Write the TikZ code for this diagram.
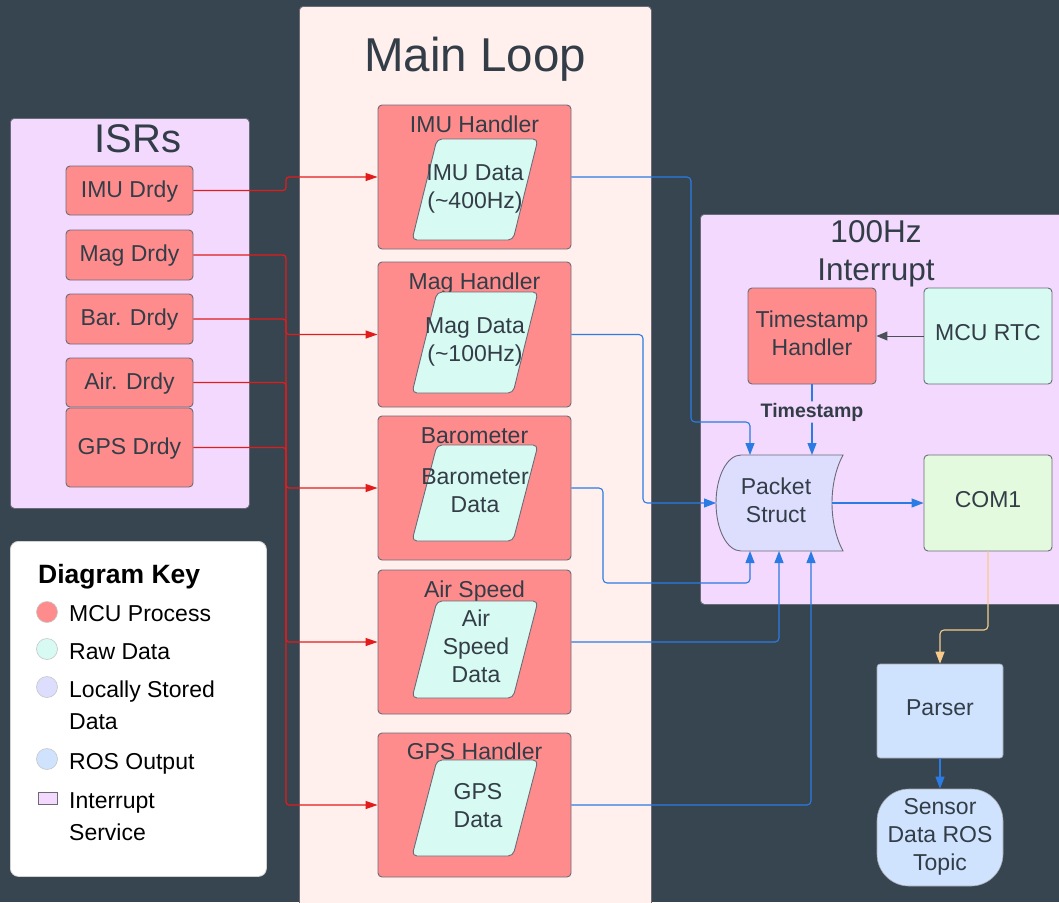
\documentclass[tikz,border=0pt]{standalone}
\usepackage{fontspec}
\setmainfont{Liberation Sans}
\usetikzlibrary{arrows.meta,calc}
\definecolor{bg}{HTML}{36454F}
\definecolor{mainfill}{HTML}{FFF0EE}
\definecolor{isrfill}{HTML}{F3D9FE}
\definecolor{procfill}{HTML}{FF8C8C}
\definecolor{rawfill}{HTML}{D7FAF2}
\definecolor{storefill}{HTML}{DDDDFD}
\definecolor{comfill}{HTML}{E3FADF}
\definecolor{rosfill}{HTML}{CFE3FE}
\definecolor{txt}{HTML}{333D47}
\definecolor{edge}{HTML}{6B6B78}
\definecolor{redline}{HTML}{E31B1B}
\definecolor{blueline}{HTML}{2B7BE5}
\definecolor{orangeline}{HTML}{F9CB8B}
\definecolor{grayline}{HTML}{4B5058}
\newcommand{\fs}[2]{\fontsize{#1}{#2}\selectfont}
\newcommand{\rawpg}[2]{\draw[rawshape] (437,#1) -- (538,#1) -- (513,#2) -- (412,#2) -- cycle;}
\begin{document}
\begin{tikzpicture}[x=1pt,y=-1pt,
  panel/.style={draw=edge, line width=0.8pt, rounded corners=4pt, inner sep=0pt, anchor=north west},
  procbox/.style={draw=edge, fill=procfill, rounded corners=4pt, line width=0.9pt, inner sep=0pt, text=txt, font=\fs{23}{28}, align=center},
  isrbox/.style={procbox, minimum width=127, text height=17pt, text depth=4pt},
  handler/.style={procbox, minimum width=193, minimum height=144},
  htitle/.style={anchor=base, yshift=-28pt, font=\fs{23}{28}, text=txt, inner sep=0pt, draw=none, fill=none},
  rawshape/.style={draw=edge, fill=rawfill, line width=0.9pt, rounded corners=5pt},
  tnode/.style={text=txt, inner sep=0pt, align=center, anchor=base, font=\fs{23}{28}},
  sbox/.style={draw=edge, rounded corners=4pt, line width=0.9pt, inner sep=0pt, text=txt, font=\fs{23}{28}, minimum width=128, minimum height=96, text height=17pt, text depth=9pt},
  redarrow/.style={draw=redline, line width=1.2pt, rounded corners=3pt, -{Triangle[length=12pt,width=8pt]}},
  bluearrow/.style={draw=blueline, line width=1.1pt, rounded corners=4pt, -{Triangle[length=12pt,width=9pt]}},
  keydot/.style={circle, minimum size=21, inner sep=0pt, draw=gray!45, line width=0.6pt},
  keytext/.style={text=black, inner sep=0pt, anchor=base west, align=left, font=\fs{23}{31.5}}
]
\useasboundingbox (0,0) rectangle (1059,902);
\clip (0,0) rectangle (1059,902);
\fill[bg] (0,0) rectangle (1059,902);

% ---------- panels ----------
\node[panel, fill=mainfill, minimum width=352, minimum height=920] (mainloop) at (299,6) {};
\node[tnode, font=\fs{47.5}{56}] (maintitle) at (475,71) {Main Loop};
\node[panel, fill=isrfill, minimum width=239, minimum height=390] (isrpanel) at (10,118) {};
\node[tnode, font=\fs{40}{48}] (isrtitle) at (138,152) {ISRs};
\node[panel, fill=isrfill, minimum width=380, minimum height=390] (intpanel) at (700,214) {};
\node[tnode, font=\fs{31.5}{38}] (inttitle) at (876,280) {100Hz\\Interrupt};

% ---------- ISR boxes ----------
\node[isrbox, minimum height=49] (imud) at (129.5,190.5) {IMU Drdy};
\node[isrbox, minimum height=50] (magd) at (129.5,255) {Mag Drdy};
\node[isrbox, minimum height=50] (bard) at (129.5,319) {Bar. Drdy};
\node[isrbox, minimum height=49] (aird) at (129.5,382.5) {Air. Drdy};
\node[isrbox, minimum height=79] (gpsd) at (129.5,447.5) {GPS Drdy};

% ---------- handlers ----------
\node[handler, label={[htitle]north:IMU Handler}] (imuh) at (474.5,177) {};
\rawpg{139}{240}
\node[tnode] (imudat) at (475,208) {IMU Data\\(\textasciitilde400Hz)};

\node[handler, minimum height=145, label={[htitle]north:Mag Handler}] (magh) at (474.5,334.5) {};
\rawpg{292}{393}
\node[tnode] (magdat) at (475,361) {Mag Data\\(\textasciitilde100Hz)};

\node[handler, label={[htitle]north:Barometer}] (baroh) at (474.5,488) {};
\rawpg{445}{541}
\node[tnode] (barodat) at (475,512) {Barometer\\Data};

\node[handler, label={[htitle]north:Air Speed}] (airh) at (474.5,642) {};
\rawpg{601}{698}
\node[tnode] (airdat) at (476,682) {Air\\Speed\\Data};

\node[handler, label={[htitle, yshift=1pt]north:GPS Handler}] (gpsh) at (474.5,805) {};
\rawpg{760}{856}
\node[tnode] (gpsdat) at (478,827) {GPS\\Data};

% ---------- interrupt contents ----------
\node[sbox, fill=procfill] (tsh) at (812,336) {};
\node[tnode] (tsht) at (812,355) {Timestamp\\Handler};
\node[sbox, fill=rawfill] (rtc) at (988,336) {MCU RTC};
\node[sbox, fill=comfill] (com1) at (988,503) {COM1};

\draw[draw=edge, fill=storefill, line width=0.9pt]
  (741,455) -- (843,455)
  .. controls (836,468) and (832,485) .. (832,503)
  .. controls (832,521) and (836,538) .. (843,551)
  -- (741,551)
  .. controls (727,551) and (716,529.5) .. (716,503)
  .. controls (716,476.5) and (727,455) .. (741,455) -- cycle;
\node[tnode] (packet) at (776,522) {Packet\\Struct};
\coordinate (pkT1) at (750,455);
\coordinate (pkT2) at (812,455);
\coordinate (pkL) at (716,503);
\coordinate (pkR) at (832,503);
\coordinate (pkB1) at (750,551);
\coordinate (pkB2) at (779,551);
\coordinate (pkB3) at (811,551);

% ---------- ROS ----------
\node[draw=edge!60, fill=rosfill, line width=0.6pt, inner sep=0pt, minimum width=126, minimum height=94, rounded corners=3pt,
      text=txt, font=\fs{23}{28}, text height=17pt, text depth=9pt] (parser) at (940,711) {Parser};
\node[draw=edge!60, fill=rosfill, line width=0.6pt, inner sep=0pt, minimum width=126, minimum height=97,
      rounded corners=32pt] (ros) at (940,837.5) {};
\node[tnode] (rost) at (940,870) {Sensor\\Data ROS\\Topic};

% ---------- red connectors ----------
\coordinate (bus) at (286,0);
\draw[redarrow] (imud.east) -| (bus |- imuh.west) -- (imuh.west);
\draw[redarrow] (gpsd.east) -| (bus |- gpsh.west) -- (gpsh.west);
\draw[redarrow] (aird.east) -| (bus |- airh.west) -- (airh.west);
\draw[redarrow] (bard.east) -| (bus |- baroh.west) -- (baroh.west);
\draw[redarrow] (magd.east) -| (bus |- magh.west) -- (magh.west);

% ---------- blue connectors ----------
\draw[bluearrow] (imuh.east) -| (691,422) -| (pkT1);
\draw[bluearrow] (magh.east) -| (643,503) -- (pkL);
\draw[bluearrow] (baroh.east) -| (603,583) -| (pkB1);
\draw[bluearrow] (airh.east) -| (pkB2);
\draw[bluearrow] (gpsh.east) -| (pkB3);
\draw[bluearrow] (tsh.south) -- node[pos=0.39, fill=isrfill, inner sep=1.5pt, text=txt, font=\bfseries\fs{19.5}{23}] (tslab) {Timestamp} (pkT2);
\draw[bluearrow] (pkR) -- (com1.west);
\draw[draw=grayline, line width=1pt, -{Triangle[length=11pt,width=9pt]}] (rtc.west) -- (tsh.east);
\draw[draw=orangeline, line width=1.1pt, rounded corners=4pt, -{Triangle[length=12pt,width=9pt]}] (com1.south) |- (940,630) -- (parser.north);
\draw[bluearrow] (parser.south) -- (ros.north);

% ---------- key ----------
\node[draw=gray!35, fill=white, rounded corners=8pt, line width=0.8pt, minimum width=256, minimum height=335, inner sep=0pt, anchor=north west] (key) at (10,541) {};
\node[text=black, inner sep=0pt, anchor=base west, font=\bfseries\fs{26.5}{31}] (keytitle) at (38,583) {Diagram Key};
\node[keydot, fill=procfill] (k1) at (47,612) {};
\node[keytext] (k1t) at (69,621) {MCU Process};
\node[keydot, fill=rawfill] (k2) at (47,649) {};
\node[keytext] (k2t) at (69,659) {Raw Data};
\node[keydot, fill=storefill] (k3) at (47,687) {};
\node[keytext] (k3t) at (69,729) {Locally Stored\\Data};
\node[keydot, fill=rosfill] (k4) at (47,759) {};
\node[keytext] (k4t) at (69,769) {ROS Output};
\node[draw=edge, fill=isrfill, line width=0.7pt, minimum width=19, minimum height=12, inner sep=0pt] (k5) at (47.5,798) {};
\node[keytext] (k5t) at (69,840) {Interrupt\\Service};
\end{tikzpicture}
\end{document}
